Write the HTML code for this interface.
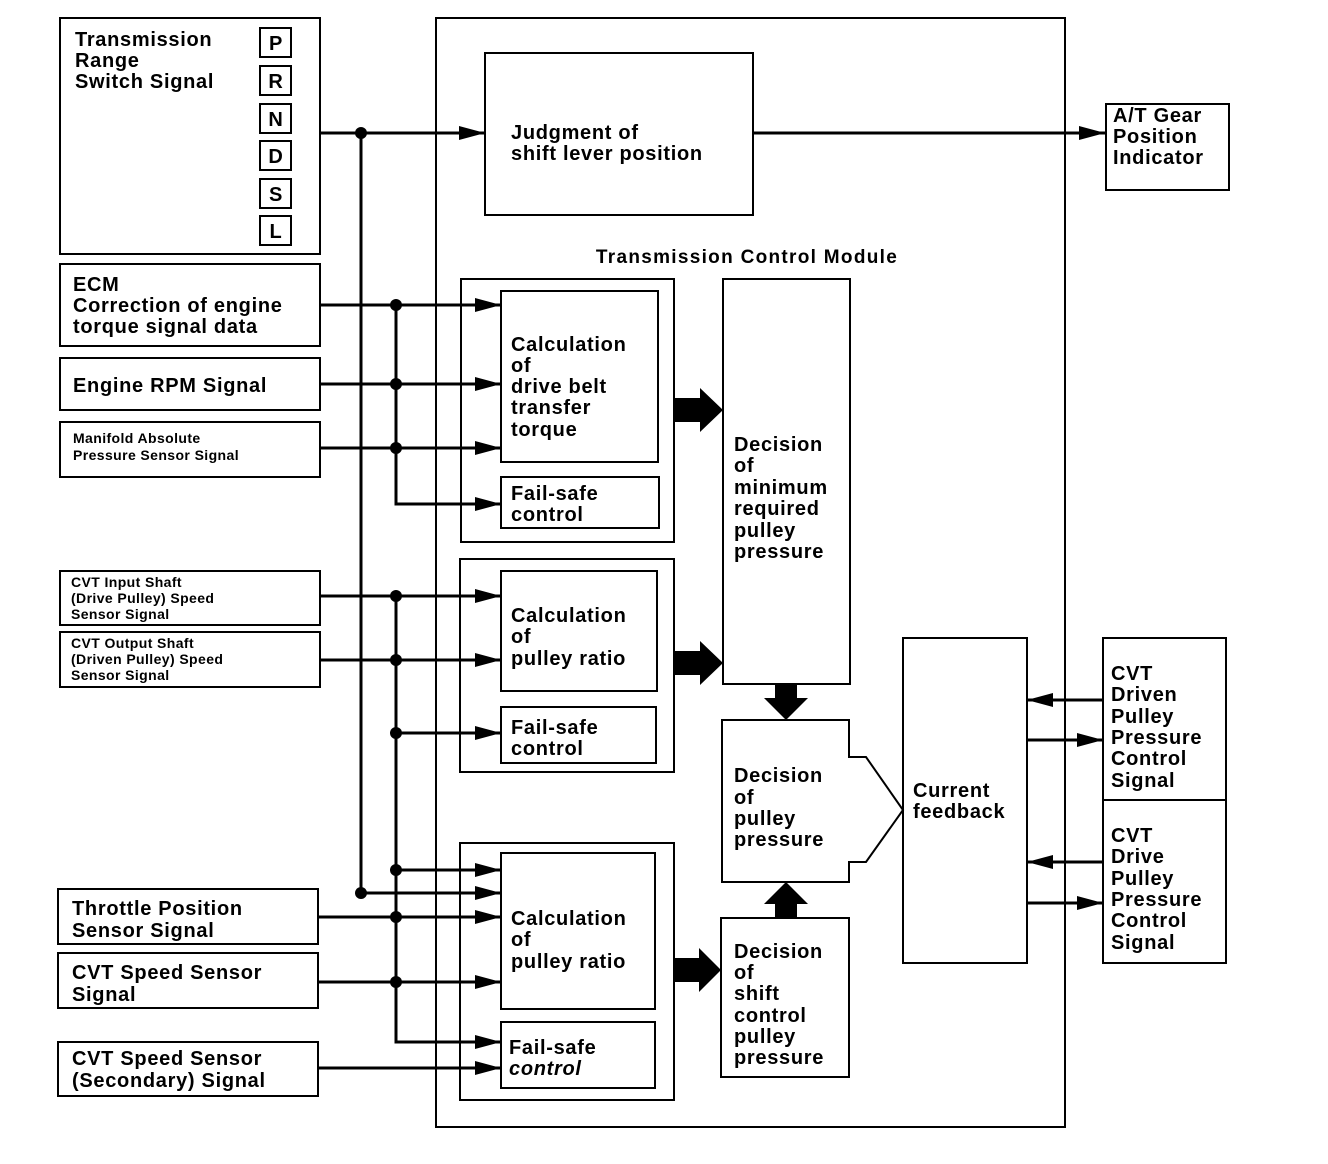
<!DOCTYPE html>
<html><head><meta charset="utf-8"><style>
html,body{margin:0;padding:0;background:#fff}
svg{display:block}
text{font-family:"Liberation Sans",sans-serif;font-weight:bold;fill:#000}
.b{fill:none;stroke:#000;stroke-width:2}
.l{stroke:#000;stroke-width:3;fill:none}
.t{font-size:20px;letter-spacing:0.7px}
.s{font-size:14px;letter-spacing:0.4px}
</style></head><body>
<svg width="1328" height="1164" viewBox="0 0 1328 1164" xmlns="http://www.w3.org/2000/svg">
<defs>
<marker id="A" markerWidth="26" markerHeight="14" refX="26" refY="7" orient="auto" markerUnits="userSpaceOnUse"><path d="M0,0 L26,7 L0,14z" fill="#000"/></marker>
</defs>
<rect class="b" x="60" y="18" width="260" height="236"/>
<text class="t"><tspan x="75" y="46">Transmission</tspan><tspan x="75" y="67">Range</tspan><tspan x="75" y="88">Switch Signal</tspan></text>
<g class="b">
<rect x="260" y="28" width="31" height="29"/><rect x="260" y="66" width="31" height="29"/><rect x="260" y="104" width="31" height="29"/>
<rect x="260" y="141" width="31" height="29"/><rect x="260" y="179" width="31" height="29"/><rect x="260" y="216" width="31" height="29"/>
</g>
<g class="t" text-anchor="middle"><text x="276" y="50">P</text><text x="276" y="88">R</text><text x="276" y="126">N</text><text x="276" y="163">D</text><text x="276" y="201">S</text><text x="276" y="238">L</text></g>

<rect class="b" x="60" y="264" width="260" height="82"/>
<text class="t"><tspan x="73" y="291">ECM</tspan><tspan x="73" y="312">Correction of engine</tspan><tspan x="73" y="333">torque signal data</tspan></text>
<rect class="b" x="60" y="358" width="260" height="52"/>
<text class="t" x="73" y="392">Engine RPM Signal</text>
<rect class="b" x="60" y="422" width="260" height="55"/>
<text class="s"><tspan x="73" y="443">Manifold Absolute</tspan><tspan x="73" y="460">Pressure Sensor Signal</tspan></text>
<rect class="b" x="60" y="571" width="260" height="54"/>
<text class="s"><tspan x="71" y="587">CVT Input Shaft</tspan><tspan x="71" y="603">(Drive Pulley) Speed</tspan><tspan x="71" y="619">Sensor Signal</tspan></text>
<rect class="b" x="60" y="632" width="260" height="55"/>
<text class="s"><tspan x="71" y="648">CVT Output Shaft</tspan><tspan x="71" y="664">(Driven Pulley) Speed</tspan><tspan x="71" y="680">Sensor Signal</tspan></text>
<rect class="b" x="58" y="889" width="260" height="55"/>
<text class="t"><tspan x="72" y="915">Throttle Position</tspan><tspan x="72" y="937">Sensor Signal</tspan></text>
<rect class="b" x="58" y="953" width="260" height="55"/>
<text class="t"><tspan x="72" y="979">CVT Speed Sensor</tspan><tspan x="72" y="1001">Signal</tspan></text>
<rect class="b" x="58" y="1042" width="260" height="54"/>
<text class="t"><tspan x="72" y="1065">CVT Speed Sensor</tspan><tspan x="72" y="1087">(Secondary) Signal</tspan></text>

<rect class="b" x="436" y="18" width="629" height="1109"/>
<text class="t" x="747" y="263" text-anchor="middle" style="font-size:19px;letter-spacing:1.3px">Transmission Control Module</text>
<rect class="b" x="485" y="53" width="268" height="162"/>
<text class="t"><tspan x="511" y="139">Judgment of</tspan><tspan x="511" y="160">shift lever position</tspan></text>
<rect class="b" x="1106" y="104" width="123" height="86"/>
<text class="t"><tspan x="1113" y="122">A/T Gear</tspan><tspan x="1113" y="143">Position</tspan><tspan x="1113" y="164">Indicator</tspan></text>

<rect class="b" x="461" y="279" width="213" height="263"/>
<rect class="b" x="501" y="291" width="157" height="171"/>
<text class="t"><tspan x="511" y="351">Calculation</tspan><tspan x="511" y="372">of</tspan><tspan x="511" y="393">drive belt</tspan><tspan x="511" y="414">transfer</tspan><tspan x="511" y="436">torque</tspan></text>
<rect class="b" x="501" y="477" width="158" height="51"/>
<text class="t"><tspan x="511" y="500">Fail-safe</tspan><tspan x="511" y="521">control</tspan></text>

<rect class="b" x="460" y="559" width="214" height="213"/>
<rect class="b" x="501" y="571" width="156" height="120"/>
<text class="t"><tspan x="511" y="622">Calculation</tspan><tspan x="511" y="643">of</tspan><tspan x="511" y="665">pulley ratio</tspan></text>
<rect class="b" x="501" y="707" width="155" height="56"/>
<text class="t"><tspan x="511" y="734">Fail-safe</tspan><tspan x="511" y="755">control</tspan></text>

<rect class="b" x="460" y="843" width="214" height="257"/>
<rect class="b" x="501" y="853" width="154" height="156"/>
<text class="t"><tspan x="511" y="925">Calculation</tspan><tspan x="511" y="946">of</tspan><tspan x="511" y="968">pulley ratio</tspan></text>
<rect class="b" x="501" y="1022" width="154" height="66"/>
<text class="t"><tspan x="509" y="1054">Fail-safe</tspan><tspan x="509" y="1075" font-style="italic">control</tspan></text>

<rect class="b" x="723" y="279" width="127" height="405"/>
<text class="t"><tspan x="734" y="451">Decision</tspan><tspan x="734" y="472">of</tspan><tspan x="734" y="494">minimum</tspan><tspan x="734" y="515">required</tspan><tspan x="734" y="537">pulley</tspan><tspan x="734" y="558">pressure</tspan></text>

<path class="b" d="M722,720 H849 V757 H866 L903,810 L866,862 H849 V882 H722 Z"/>
<text class="t"><tspan x="734" y="782">Decision</tspan><tspan x="734" y="804">of</tspan><tspan x="734" y="825">pulley</tspan><tspan x="734" y="846">pressure</tspan></text>
<rect class="b" x="721" y="918" width="128" height="159"/>
<text class="t"><tspan x="734" y="958">Decision</tspan><tspan x="734" y="979">of</tspan><tspan x="734" y="1000">shift</tspan><tspan x="734" y="1022">control</tspan><tspan x="734" y="1043">pulley</tspan><tspan x="734" y="1064">pressure</tspan></text>

<rect class="b" x="903" y="638" width="124" height="325"/>
<text class="t"><tspan x="913" y="797">Current</tspan><tspan x="913" y="818">feedback</tspan></text>
<rect class="b" x="1103" y="638" width="123" height="162"/>
<rect class="b" x="1103" y="800" width="123" height="163"/>
<text class="t"><tspan x="1111" y="680">CVT</tspan><tspan x="1111" y="701">Driven</tspan><tspan x="1111" y="723">Pulley</tspan><tspan x="1111" y="744">Pressure</tspan><tspan x="1111" y="765">Control</tspan><tspan x="1111" y="787">Signal</tspan></text>
<text class="t"><tspan x="1111" y="842">CVT</tspan><tspan x="1111" y="863">Drive</tspan><tspan x="1111" y="885">Pulley</tspan><tspan x="1111" y="906">Pressure</tspan><tspan x="1111" y="927">Control</tspan><tspan x="1111" y="949">Signal</tspan></text>

<g class="l">
<line x1="320" y1="133" x2="485" y2="133" marker-end="url(#A)"/>
<line x1="753" y1="133" x2="1105" y2="133" marker-end="url(#A)"/>
<line x1="361" y1="133" x2="361" y2="893"/>
<line x1="320" y1="305" x2="501" y2="305" marker-end="url(#A)"/>
<line x1="320" y1="384" x2="501" y2="384" marker-end="url(#A)"/>
<line x1="320" y1="448" x2="501" y2="448" marker-end="url(#A)"/>
<polyline points="396,305 396,504 501,504" marker-end="url(#A)"/>
<line x1="320" y1="596" x2="501" y2="596" marker-end="url(#A)"/>
<line x1="320" y1="660" x2="501" y2="660" marker-end="url(#A)"/>
<line x1="396" y1="733" x2="501" y2="733" marker-end="url(#A)"/>
<polyline points="396,596 396,1042 501,1042" marker-end="url(#A)"/>
<line x1="396" y1="870" x2="501" y2="870" marker-end="url(#A)"/>
<line x1="361" y1="893" x2="501" y2="893" marker-end="url(#A)"/>
<line x1="318" y1="917" x2="501" y2="917" marker-end="url(#A)"/>
<line x1="318" y1="982" x2="501" y2="982" marker-end="url(#A)"/>
<line x1="318" y1="1068" x2="501" y2="1068" marker-end="url(#A)"/>
<line x1="1103" y1="700" x2="1027" y2="700" marker-end="url(#A)"/>
<line x1="1027" y1="740" x2="1103" y2="740" marker-end="url(#A)"/>
<line x1="1103" y1="862" x2="1027" y2="862" marker-end="url(#A)"/>
<line x1="1027" y1="903" x2="1103" y2="903" marker-end="url(#A)"/>
</g>
<g fill="#000">
<circle cx="361" cy="133" r="6"/><circle cx="361" cy="893" r="6"/>
<circle cx="396" cy="305" r="6"/><circle cx="396" cy="384" r="6"/><circle cx="396" cy="448" r="6"/>
<circle cx="396" cy="596" r="6"/><circle cx="396" cy="660" r="6"/><circle cx="396" cy="733" r="6"/>
<circle cx="396" cy="870" r="6"/><circle cx="396" cy="917" r="6"/><circle cx="396" cy="982" r="6"/>
<path d="M674,398 H700 V388 L723,410 L700,432 V422 H674 Z"/>
<path d="M674,651 H700 V641 L723,663 L700,685 V675 H674 Z"/>
<path d="M673,958 H699 V948 L721,970 L699,992 V982 H673 Z"/>
<path d="M775,684 H797 V698 H808 L786,720 L764,698 H775 Z"/>
<path d="M775,918 H797 V904 H808 L786,882 L764,904 H775 Z"/>
</g>
</svg>
</body></html>
